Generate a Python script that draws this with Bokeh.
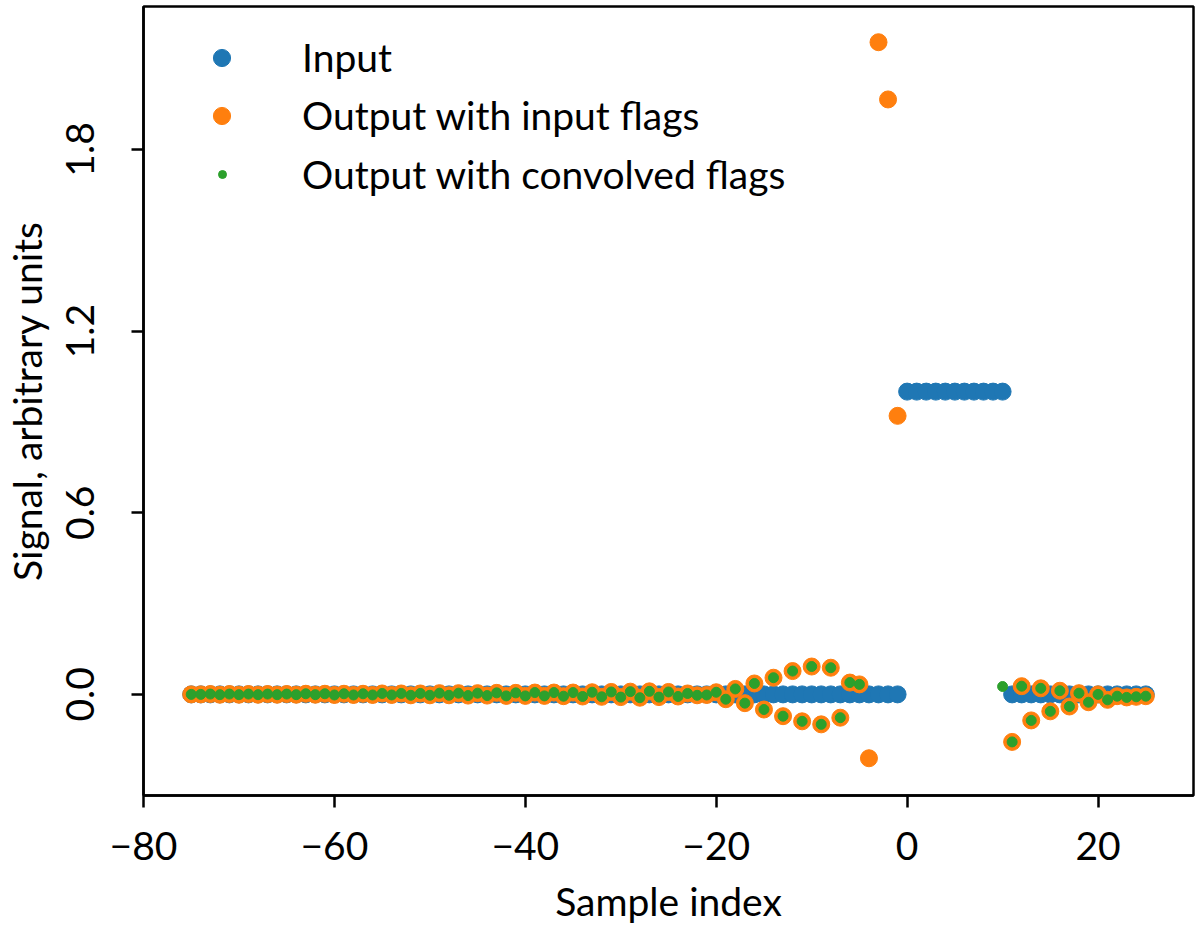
import math

from bokeh.embed import file_html
from bokeh.models import FixedTicker, Legend, LegendItem, PrintfTickFormatter
from bokeh.plotting import figure
from bokeh.resources import INLINE

nan = math.nan

# sample index -75 .. 25
samples = list(range(-75, 26))

signal_in = [0.0] * 75 + [1.0] * 11 + [0.0] * 15

out_input_flags = [
    0.000, 0.000, 0.001, -0.001, 0.001, -0.001, 0.001, -0.001, 0.001, -0.001,
    0.001, -0.001, 0.002, -0.001, 0.002, -0.002, 0.002, -0.002, 0.002, -0.002,
    0.003, -0.002, 0.003, -0.003, 0.003, -0.003, 0.004, -0.003, 0.004, -0.004,
    0.004, -0.004, 0.005, -0.005, 0.005, -0.005, 0.006, -0.005, 0.006, -0.006,
    0.006, -0.007, 0.007, -0.008, 0.008, -0.009, 0.009, -0.011, 0.010, -0.009,
    0.008, -0.007, 0.003, -0.003, -0.002, 0.007, -0.016, 0.018, -0.029, 0.036,
    -0.050, 0.055, -0.072, 0.077, -0.089, 0.092, -0.099, 0.088, -0.077, 0.039,
    0.033, -0.211, 2.154, 1.965, 0.920,
    nan, nan, nan, nan, nan, nan, nan, nan, nan, nan, nan,
    -0.157, 0.027, -0.086, 0.020, -0.056, 0.012, -0.040, 0.004, -0.026, 0.000,
    -0.018, -0.006, -0.010, -0.008, -0.006,
]

# same as above, except samples -4 .. 9 are flagged and sample 10 survives
out_conv_flags = out_input_flags[:71] + [nan] * 14 + [0.026] + out_input_flags[86:]

x_ticks = [-80, -60, -40, -20, 0, 20]
y_ticks = [0.0, 0.6, 1.2, 1.8]

FONT = "Lato"
FS = "39px"

p = figure(
    width=1200,
    height=932,
    x_range=(-80, 30),
    y_range=(-0.334, 2.272),
    toolbar_location=None,
    output_backend="svg",
    min_border_left=143,
    min_border_right=7,
    min_border_top=6,
    min_border_bottom=137,
)
p.grid.visible = False
p.outline_line_color = "black"
p.outline_line_width = 2.5

r_in = p.scatter(samples, signal_in, size=17, color="#1f77b4")
r_out = p.scatter(samples, out_input_flags, size=17, color="#ff7f0e")
r_conv = p.scatter(samples, out_conv_flags, size=10, color="#2ca02c")

for ax in (p.xaxis, p.yaxis):
    ax.axis_line_width = 2.5
    ax.major_tick_line_width = 2.5
    ax.major_tick_in = 0
    ax.major_tick_out = 12
    ax.minor_tick_line_color = None
    ax.major_label_text_font = FONT
    ax.major_label_text_font_size = FS
    ax.major_label_text_color = "black"
    ax.axis_label_text_font = FONT
    ax.axis_label_text_font_size = FS
    ax.axis_label_text_font_style = "normal"
    ax.axis_label_text_color = "black"

p.xaxis.ticker = FixedTicker(ticks=x_ticks)
p.xaxis.major_label_overrides = {t: str(t).replace("-", "\u2212") for t in x_ticks}
p.xaxis.major_label_standoff = 24
p.xaxis.axis_label = "Sample index"
p.xaxis.axis_label_standoff = 15

p.yaxis.ticker = FixedTicker(ticks=y_ticks)
p.yaxis.formatter = PrintfTickFormatter(format="%.1f")
p.yaxis.major_label_orientation = "parallel"
p.yaxis.major_label_standoff = 37
p.yaxis.axis_label = "Signal, arbitrary units"
p.yaxis.axis_label_standoff = 14

legend_style = dict(
    padding=0,
    spacing=10,
    label_height=48,
    label_text_font=FONT,
    label_text_font_size=FS,
    label_text_color="black",
    border_line_color=None,
    background_fill_alpha=0,
)

# legend marker size follows the glyph box, so the small green dot gets its own box
legend_big = Legend(
    items=[
        LegendItem(label="Input", renderers=[r_in]),
        LegendItem(label="Output with input flags", renderers=[r_out]),
    ],
    location=(57, 656),
    glyph_width=43,
    glyph_height=43,
    label_standoff=59,
    **legend_style,
)
legend_small = Legend(
    items=[LegendItem(label="Output with convolved flags", renderers=[r_conv])],
    location=(69, 597),
    glyph_width=20,
    glyph_height=20,
    label_standoff=70,
    **legend_style,
)
p.add_layout(legend_big)
p.add_layout(legend_small)

open("out.html", "w").write(file_html(p, INLINE))
